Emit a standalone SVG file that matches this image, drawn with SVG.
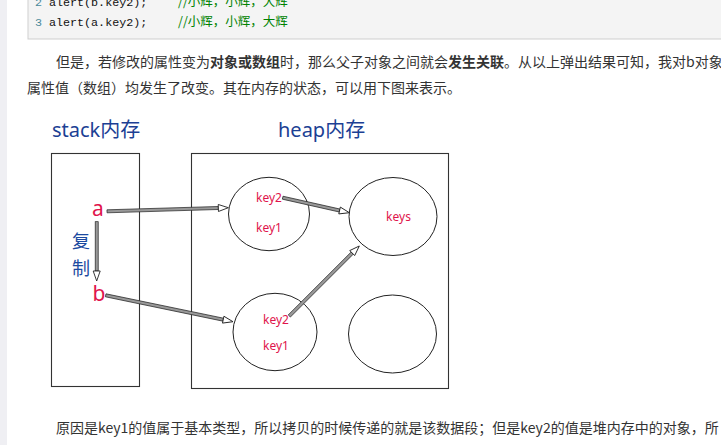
<svg xmlns="http://www.w3.org/2000/svg" width="721" height="445" viewBox="0 0 721 445">
<style>
.para{font-family:"Noto Sans CJK SC","Noto Sans",sans-serif;font-size:14px;fill:#333}
.b{font-weight:bold}
.code{font-family:"Liberation Mono","Noto Sans CJK SC",monospace;font-size:11.7px;fill:#111}
.ln{fill:#4b8a9b}
.cm{fill:#008200;font-family:"Noto Sans CJK SC",sans-serif;font-size:12.5px}
.title{font-family:"Noto Sans","Noto Sans CJK SC",sans-serif;font-size:20px;fill:#1c3f94}
.blue{font-family:"Noto Sans CJK SC",sans-serif;font-size:18px;fill:#1c4aa0}
.red{font-family:"Noto Sans",sans-serif;fill:#e0144c}
.k{font-size:12px}
.v{font-size:21px}
.box{fill:none;stroke:#333;stroke-width:1.1}
.node{fill:none;stroke:#222;stroke-width:1}
.shaft{fill:#999;stroke:#222;stroke-width:0.7}
.head{fill:#fff;stroke:#222;stroke-width:0.9}
</style>
<rect x="0" y="0" width="721" height="445" fill="#fff"/>
<rect x="0" y="0" width="7" height="445" fill="#efeff3"/>
<!-- code block -->
<rect x="28" y="-2" width="700" height="41" fill="#f4f4f4" stroke="#cfcfcf" stroke-width="1"/>
<text class="code" x="35" y="6"><tspan class="ln">2</tspan> alert(b.key2);</text>
<text class="cm" x="178" y="6">//小辉，小辉，大辉</text>
<text class="code" x="35" y="26"><tspan class="ln">3</tspan> alert(a.key2);</text>
<text class="cm" x="178" y="26">//小辉，小辉，大辉</text>
<!-- paragraphs -->
<text class="para" x="56" y="67">但是，若修改的属性变为<tspan class="b">对象或数组</tspan>时，那么父子对象之间就会<tspan class="b">发生关联</tspan>。从以上弹出结果可知，我对b对象</text>
<text class="para" x="27" y="93">属性值（数组）均发生了改变。其在内存的状态，可以用下图来表示。</text>
<text class="para" x="56" y="433">原因是key1的值属于基本类型，所以拷贝的时候传递的就是该数据段；但是key2的值是堆内存中的对象，所</text>
<!-- titles -->
<text class="title" x="52" y="137">stack内存</text>
<text class="title" x="278" y="137">heap内存</text>
<g id="stack">
<rect class="box" x="51.5" y="153.5" width="88" height="233"/>
<text class="red v" x="98" y="216" text-anchor="middle">a</text>
<text class="red v" x="99" y="301" text-anchor="middle">b</text>
<text class="blue" x="81" y="248" text-anchor="middle">复</text>
<text class="blue" x="81" y="275" text-anchor="middle">制</text>
</g>
<g id="heap">
<rect class="box" x="191.5" y="153.5" width="257" height="235"/>
</g>
<g id="obj-a">
<ellipse class="node" cx="269" cy="214" rx="40.5" ry="36.7"/>
<text class="red k" x="269" y="202" text-anchor="middle">key2</text>
<text class="red k" x="269" y="232" text-anchor="middle">key1</text>
</g>
<g id="obj-keys">
<ellipse class="node" cx="393" cy="216.5" rx="44" ry="39"/>
<text class="red k" x="398.5" y="221" text-anchor="middle">keys</text>
</g>
<g id="obj-b">
<ellipse class="node" cx="275" cy="332" rx="42" ry="38.7"/>
<text class="red k" x="276" y="324" text-anchor="middle">key2</text>
<text class="red k" x="276" y="350" text-anchor="middle">key1</text>
</g>
<g id="obj-empty">
<ellipse class="node" cx="392.5" cy="334" rx="44" ry="39"/>
</g>
<g id="connectors">
<g transform="translate(107,211.3) rotate(-1.70)">
<rect class="shaft" x="0" y="-1.5" width="111.4" height="3"/>
<polygon class="head" points="111.4,-3.5 121.4,0 111.4,3.5"/>
</g>
<g transform="translate(282.7,197.7) rotate(12.69)">
<rect class="shaft" x="0" y="-1.5" width="58.3" height="3"/>
<polygon class="head" points="58.3,-3.5 68.3,0 58.3,3.5"/>
</g>
<g transform="translate(105.7,295.3) rotate(11.72)">
<rect class="shaft" x="0" y="-1.5" width="120" height="3"/>
<polygon class="head" points="120,-3.5 130,0 120,3.5"/>
</g>
<g transform="translate(289.3,316) rotate(-45)">
<rect class="shaft" x="0" y="-1.5" width="89" height="3"/>
<polygon class="head" points="89,-3.5 99,0 89,3.5"/>
</g>
<g transform="translate(96.7,221.7) rotate(90)">
<rect class="shaft" x="0" y="-1.5" width="49.3" height="3"/>
<polygon class="head" points="49.3,-3.5 59.3,0 49.3,3.5"/>
</g>
</g>
</svg>
